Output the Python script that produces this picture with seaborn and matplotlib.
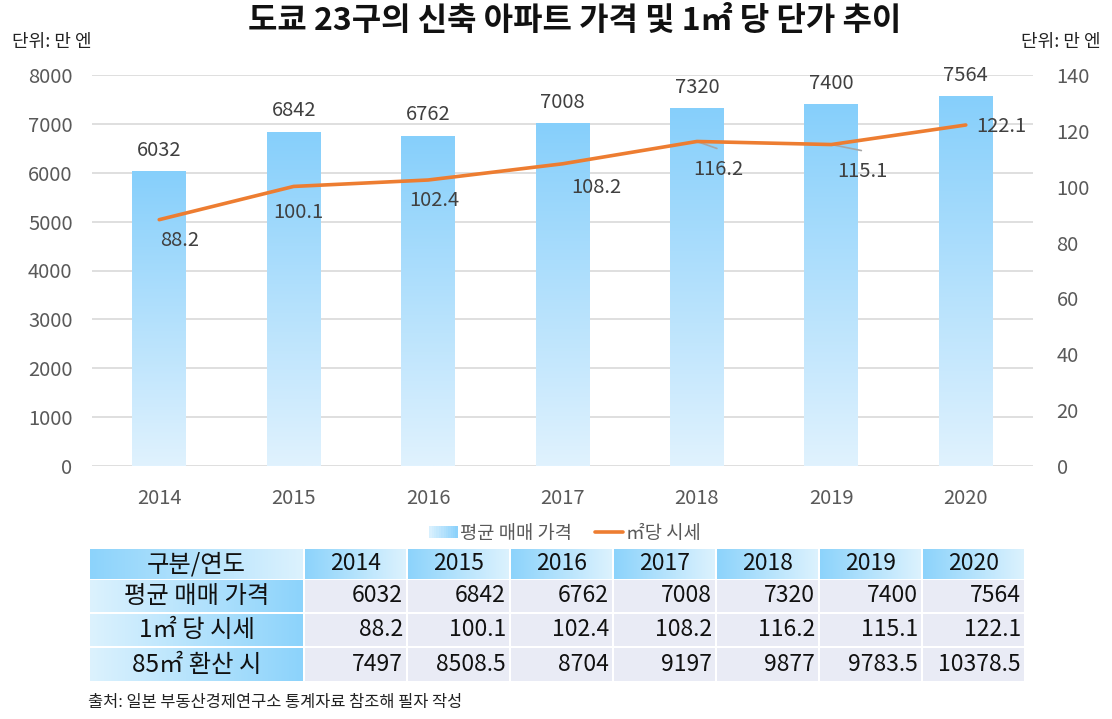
import numpy as np
import pandas as pd
import matplotlib
matplotlib.use("Agg")
import matplotlib.pyplot as plt
import seaborn as sns
from matplotlib.colors import LinearSegmentedColormap
from matplotlib.patches import Rectangle
from matplotlib.lines import Line2D
from matplotlib.legend_handler import HandlerBase

# data
years = ["2014", "2015", "2016", "2017", "2018", "2019", "2020"]
avg_price = [6032, 6842, 6762, 7008, 7320, 7400, 7564]
price_per_m2 = [88.2, 100.1, 102.4, 108.2, 116.2, 115.1, 122.1]
price_85m2 = [7497, 8508.5, 8704, 9197, 9877, 9783.5, 10378.5]
price_85m2_txt = ["7497", "8508.5", "8704", "9197", "9877", "9783.5", "10378.5"]

row_labels = ["평균 매매 가격", "1㎡ 당 시세", "85㎡ 환산 시"]
head_label = "구분/연도"

# label offsets (pixels) for the line values, plus leader line ends
line_offsets = [(20, -21), (5, -26), (6, -20), (34, -24), (21, -28), (31, -27), (36, -2)]
leader_ends = [None, None, None, None, (20, -7), (30, -6), None]

sns.set_theme(style="white")
plt.rcParams['font.family'] = ['Noto Sans CJK KR', 'DejaVu Sans']

GRAY = "#595959"
ORANGE = "#ed7d31"
bar_cmap = LinearSegmentedColormap.from_list("bar", ["#e0f2fe", "#86cffb"])

fig = plt.figure(figsize=(11.12, 7.19), dpi=100)
W, H = 1112, 719
ax = fig.add_axes([92 / W, 1 - 466 / H, 941 / W, 391 / H])

df = pd.DataFrame({"year": years, "price": avg_price, "m2": price_per_m2})
sns.barplot(data=df, x="year", y="price", ax=ax, width=0.4, color="#86cffb", saturation=1)
ax.set_ylim(0, 8000)
ax.set_xlim(-0.5, len(years) - 0.5)
ax.set_yticks(np.arange(0, 8001, 1000))
ax.grid(axis="y", color="#d9d9d9", linewidth=1.2)
ax.set_axisbelow(True)
ax.set_xlabel("")
ax.set_ylabel("")
for s in ax.spines.values():
    s.set_visible(False)
ax.tick_params(axis="y", labelsize=14.5, labelcolor=GRAY, pad=14, length=0)
ax.tick_params(axis="x", labelsize=14.5, labelcolor=GRAY, pad=16, length=0)

# vertical gradient inside each bar
grad = np.linspace(0, 1, 256).reshape(-1, 1)
for p in ax.patches:
    x0, y0 = p.get_x(), p.get_y()
    w, h = p.get_width(), p.get_height()
    im = ax.imshow(grad, cmap=bar_cmap, aspect="auto", origin="lower",
                   extent=[x0, x0 + w, y0, y0 + h], zorder=2)
    im.set_clip_path(p)
    p.set_facecolor("none")
    p.set_edgecolor("none")
ax.set_xlim(-0.5, len(years) - 0.5)
ax.set_ylim(0, 8000)

for i, v in enumerate(avg_price):
    ax.annotate(str(v), (i, v), xytext=(0, 21), textcoords="offset pixels",
                ha="center", va="center", fontsize=14.5, color="#404040")

ax2 = ax.twinx()
sns.lineplot(x=np.arange(len(years)), y=price_per_m2, ax=ax2, color=ORANGE, linewidth=2.6)
ax2.set_ylim(0, 140)
ax2.set_yticks(np.arange(0, 141, 20))
for s in ax2.spines.values():
    s.set_visible(False)
ax2.tick_params(axis="y", labelsize=14.5, labelcolor=GRAY, pad=17, length=0)
ax2.grid(False)

for i, v in enumerate(price_per_m2):
    dx, dy = line_offsets[i]
    if leader_ends[i] is not None:
        ax2.annotate("", (i, v), xytext=leader_ends[i], textcoords="offset pixels",
                     arrowprops=dict(arrowstyle="-", color="#a6a6a6", lw=1.2,
                                     shrinkA=0, shrinkB=0), zorder=1)
    ax2.annotate(f"{v}", (i, v), xytext=(dx, dy), textcoords="offset pixels",
                 ha="center", va="center", fontsize=14.5, color="#404040")

# title and units
fig.text(575 / W, 1 - 21 / H, "도쿄 23구의 신축 아파트 가격 및 1㎡ 당 단가 추이",
         ha="center", va="center", fontsize=23, fontweight="bold", color="#111111")
fig.text(12 / W, 1 - 42 / H, "단위: 만 엔", ha="left", va="center", fontsize=13, color="#222222")
fig.text(1101 / W, 1 - 42 / H, "단위: 만 엔", ha="right", va="center", fontsize=13, color="#222222")


# legend with a gradient patch
class GradHandler(HandlerBase):
    def create_artists(self, legend, orig_handle, xdescent, ydescent, width, height, fontsize, trans):
        cm = LinearSegmentedColormap.from_list("lg", ["#d8f0fe", "#8dd2fb"])
        n = 12
        arts = []
        for k in range(n):
            arts.append(Rectangle((-xdescent + width * k / n, -ydescent + height * 0.05), width / n + 0.3,
                                  height * 0.9, facecolor=cm(k / (n - 1)), edgecolor="none", transform=trans))
        return arts


bar_handle = Rectangle((0, 0), 1, 1)
line_handle = Line2D([0], [0], color=ORANGE, lw=2.6)
fig.legend([bar_handle, line_handle], ["평균 매매 가격", "㎡당 시세"],
           handler_map={Rectangle: GradHandler()}, loc="center",
           bbox_to_anchor=(565 / W, 1 - 533 / H), ncol=2, frameon=False,
           fontsize=13.5, labelcolor=GRAY, handlelength=1.5, handletextpad=0.15,
           columnspacing=1.2)

# table under the chart
tax = fig.add_axes([90 / W, 1 - 682 / H, 937 / W, 134 / H])
tax.set_xlim(0, 937)
tax.set_ylim(134, 0)
tax.axis("off")

col_x = [0] + [215 + 103 * i for i in range(len(years))]
col_w = [213] + [101] * len(years)
row_y = [1, 32, 66, 100]
row_h = [30, 32, 32, 33]

hgrad = np.linspace(0, 1, 256).reshape(1, -1)
head_cmap = LinearSegmentedColormap.from_list("hd", ["#8cd3fb", "#dcf2fe"])
rowh_cmap = LinearSegmentedColormap.from_list("rh", ["#dcf2fe", "#8cd3fb"])

for r in range(4):
    for c in range(len(col_x)):
        x0, y0, w, h = col_x[c], row_y[r], col_w[c], row_h[r]
        if r == 0 or c == 0:
            cm = head_cmap if r == 0 else rowh_cmap
            tax.imshow(hgrad, cmap=cm, aspect="auto", extent=[x0, x0 + w, y0 + h, y0])
        else:
            tax.add_patch(Rectangle((x0, y0), w, h, facecolor="#e9ebf5", edgecolor="none"))
tax.set_xlim(0, 937)
tax.set_ylim(134, 0)

table_rows = [[str(v) for v in avg_price], [f"{v}" for v in price_per_m2], price_85m2_txt]
tax.text(col_x[0] + col_w[0] / 2, row_y[0] + row_h[0] / 2, head_label,
         ha="center", va="center", fontsize=17.5, color="#111111")
for c, y in enumerate(years):
    tax.text(col_x[c + 1] + col_w[c + 1] / 2, row_y[0] + row_h[0] / 2, y,
             ha="center", va="center", fontsize=16.5, color="#111111")
for r, lab in enumerate(row_labels):
    cy = row_y[r + 1] + row_h[r + 1] / 2
    tax.text(col_x[0] + col_w[0] / 2, cy, lab, ha="center", va="center", fontsize=17.5, color="#111111")
    for c, val in enumerate(table_rows[r]):
        tax.text(col_x[c + 1] + col_w[c + 1] - 3, cy, val, ha="right", va="center",
                 fontsize=16.5, color="#111111")

fig.text(88 / W, 1 - 703 / H, "출처: 일본 부동산경제연구소 통계자료 참조해 필자 작성",
         ha="left", va="center", fontsize=11.8, color="#222222")

fig.savefig("out.png", dpi=100)
